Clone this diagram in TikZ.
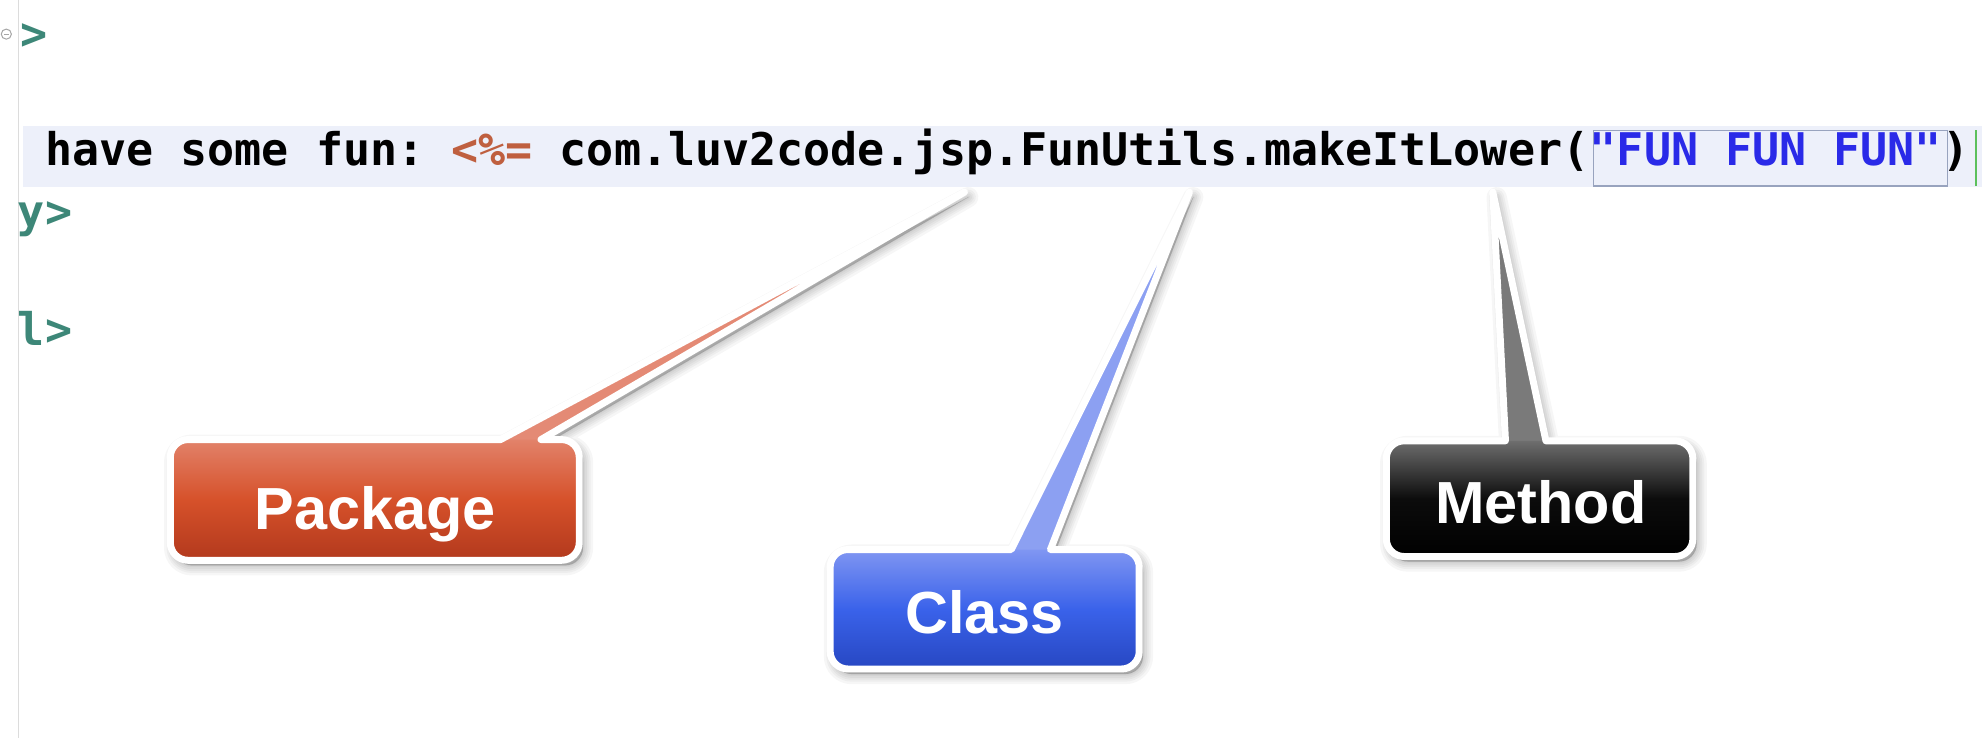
\documentclass[tikz,border=0pt]{standalone}
\usepackage{fontspec}
\usetikzlibrary{calc}
\newfontfamily\codefont{DejaVu Sans Mono}
\newfontfamily\labelfont{Liberation Sans}
\frenchspacing
\definecolor{bandc}{HTML}{EDF0FA}
\definecolor{gutterc}{HTML}{DCDCDC}
\definecolor{tagc}{HTML}{3D8778}
\definecolor{jspc}{HTML}{BF5F3F}
\definecolor{strc}{HTML}{2A2AE8}
\definecolor{strboxc}{HTML}{98A3BE}
\definecolor{cursorc}{HTML}{5CC05C}
\definecolor{pkgtop}{HTML}{E2826A}
\definecolor{pkgmid}{HTML}{D6512A}
\definecolor{pkgbot}{HTML}{B2391D}
\definecolor{pkgptr}{HTML}{E48A75}
\definecolor{clstop}{HTML}{8096F2}
\definecolor{clsmid}{HTML}{3A62EA}
\definecolor{clsbot}{HTML}{2747C2}
\definecolor{clsptr}{HTML}{8CA0F2}
\definecolor{mthtop}{HTML}{6E6E6E}
\definecolor{mthmid}{HTML}{0C0C0C}
\definecolor{mthbot}{HTML}{000000}
\definecolor{mthptr}{HTML}{7A7A7A}
% rounded box corners: radius 14, control offset 6.3
% x1 y1 x2 y2 bx1 bx2 tx ty
\newcommand\calloutpath[8]{(#1+14,#2) -- (#5,#2) -- (#7,#8) -- (#6,#2) -- (#3-14,#2) .. controls (#3-6.3,#2) and (#3,#2+6.3) .. (#3,#2+14) -- (#3,#4-14) .. controls (#3,#4-6.3) and (#3-6.3,#4) .. (#3-14,#4) -- (#1+14,#4) .. controls (#1+6.3,#4) and (#1,#4-6.3) .. (#1,#4-14) -- (#1,#2+14) .. controls (#1,#2+6.3) and (#1+6.3,#2) .. (#1+14,#2) -- cycle}
\newcommand\boxpath[4]{(#1+14,#2) -- (#3-14,#2) .. controls (#3-6.3,#2) and (#3,#2+6.3) .. (#3,#2+14) -- (#3,#4-14) .. controls (#3,#4-6.3) and (#3-6.3,#4) .. (#3-14,#4) -- (#1+14,#4) .. controls (#1+6.3,#4) and (#1,#4-6.3) .. (#1,#4-14) -- (#1,#2+14) .. controls (#1,#2+6.3) and (#1+6.3,#2) .. (#1+14,#2) -- cycle}
\newcommand\wedgepath[5]{(#1,#3+10) -- (#1,#3) -- (#4,#5) -- (#2,#3) -- (#2,#3+10) -- cycle}
\begin{document}
\begin{tikzpicture}[x=1pt,y=-1pt,
  code/.style={inner sep=0pt, anchor=base west, font=\codefont\bfseries\fontsize{35.6}{40}\selectfont},
  lbl/.style={inner sep=0pt, anchor=base, text=white, font=\labelfont\bfseries\fontsize{47}{54}\selectfont},
  outline/.style={draw=white, line width=5.5pt, line join=round},
  shadowlayer/.style={fill=black, draw=black, opacity=0.035, line join=round}]
\useasboundingbox (0,0) rectangle (1568,584);
\fill[white] (0,0) rectangle (1568,584);
% editor background
\draw[gutterc, line width=1pt] (14.5,0) -- (14.5,584);
\fill[bandc] (18,100) rectangle (1568,148);
\draw[gray!70, line width=0.8pt] (5,27) circle (4);
\draw[gray!70, line width=0.8pt] (3,27) -- (7,27);
\node[code, text=tagc] (t1) at (16,39) {>};
\node[code, text=tagc] (t2) at (14,180) {y>};
\node[code, text=tagc] (t3) at (14,273) {l>};
\node[code] (code) at (35.5,131) {have some fun: \textcolor{jspc}{<\%=} com.luv2code.jsp.FunUtils.makeItLower(};
\node[code, text=strc] (str) at (code.base east) {"FUN FUN FUN"};
\node[code] (close) at (str.base east) {)};
\draw[strboxc, line width=1.1pt] ($(str.west |- 0,103)+(3,0)$) rectangle ($(str.east |- 0,147)+(4,0)$);
\draw[cursorc, line width=1.4pt] ($(close.east |- 0,103)+(5,0)$) -- ($(close.east |- 0,147)+(5,0)$);
% shadows
\foreach \w in {16,12,9,6,3,1}{
  \path[shadowlayer, line width=\w pt, shift={(3,4)}] \calloutpath{134.75}{347.75}{458.25}{443.25}{396}{428}{763}{152};
  \path[shadowlayer, line width=\w pt, shift={(3,4)}] \calloutpath{656.75}{434.75}{901.25}{529.25}{800}{831}{941}{152};
  \path[shadowlayer, line width=\w pt, shift={(3,4)}] \calloutpath{1096.75}{348.75}{1339.25}{440.25}{1191}{1223}{1181}{152};
}
% Package callout
\fill[pkgptr] \wedgepath{396}{428}{347.75}{763}{152};
\shade[top color=pkgtop, bottom color=pkgbot, middle color=pkgmid] \boxpath{134.75}{347.75}{458.25}{443.25};
\path[outline] \calloutpath{134.75}{347.75}{458.25}{443.25}{396}{428}{763}{152};
\node[lbl] (pkg) at (297,419) {Package};
% Class callout
\fill[clsptr] \wedgepath{800}{831}{434.75}{941}{152};
\shade[top color=clstop, bottom color=clsbot, middle color=clsmid] \boxpath{656.75}{434.75}{901.25}{529.25};
\path[outline] \calloutpath{656.75}{434.75}{901.25}{529.25}{800}{831}{941}{152};
\node[lbl] (cls) at (779,501) {Class};
% Method callout
\fill[mthptr] \wedgepath{1191}{1223}{348.75}{1181}{152};
\shade[top color=mthtop, bottom color=mthbot, middle color=mthmid] \boxpath{1096.75}{348.75}{1339.25}{440.25};
\path[outline] \calloutpath{1096.75}{348.75}{1339.25}{440.25}{1191}{1223}{1181}{152};
\node[lbl] (mth) at (1219,414) {Method};
\end{tikzpicture}
\end{document}
